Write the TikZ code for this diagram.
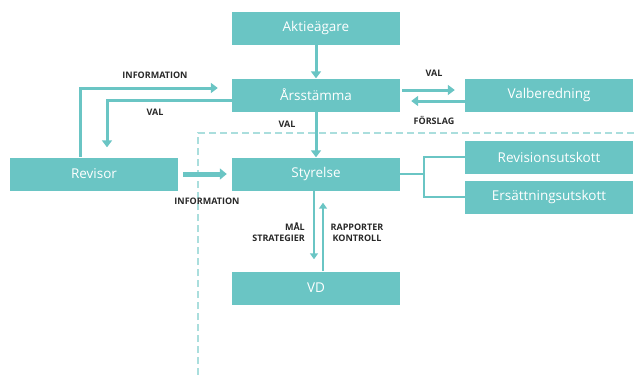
\documentclass[tikz,border=0pt]{standalone}
\usepackage{fontspec}
\setmainfont{Open Sans}
\usetikzlibrary{arrows.meta}
\definecolor{boxteal}{RGB}{106,197,196}
\definecolor{dashteal}{RGB}{170,222,221}
\definecolor{lbltext}{RGB}{40,40,40}

\begin{document}
\begin{tikzpicture}[x=1pt,y=-1pt,
    box/.style={fill=boxteal,text=white,minimum width=168pt,minimum height=33pt,inner sep=0pt,font=\fontsize{13.5}{15}\selectfont},
    flow/.style={draw=boxteal,line width=3pt,-{Triangle[width=10pt,length=7pt]}},
    link/.style={draw=boxteal,line width=2pt},
    lbl/.style={text=lbltext,inner sep=0pt,font=\fontsize{9}{10.5}\selectfont\bfseries}]
      \useasboundingbox (0,0) rectangle (638,375);
      % dashed border
      \draw[dashteal,line width=1.5pt,dash pattern=on 7pt off 4pt] (198,375) -- (198,133) -- (638,133);
      % boxes
      \node[box] (aktie) at (316,28) {Aktieägare};
      \node[box] (arss) at (316,95) {Årsstämma};
      \node[box] (valb) at (549,95) {Valberedning};
      \node[box] (rev) at (94,174) {Revisor};
      \node[box] (styr) at (316,174) {Styrelse};
      \node[box] (revu) at (549,157) {Revisionsutskott};
      \node[box] (ersu) at (549,197) {Ersättningsutskott};
      \node[box] (vd) at (316,288) {VD};
      % arrows
      \draw[flow] (aktie) -- (arss);
      \draw[flow] (arss) -- (styr);
      \draw[flow] ([xshift=-14pt]rev.north) |- ([xshift=-14pt,yshift=7pt]arss.west);
      \draw[flow] ([yshift=-5pt]arss.west) -| ([xshift=13pt,yshift=10pt]rev.north);
      \draw[flow,line width=5pt,-{Triangle[width=11pt,length=7pt]}] ([xshift=5pt]rev.east) -- ([xshift=-5pt]styr.west);
      \draw[flow] ([xshift=2pt,yshift=5pt]arss.east) -- ([xshift=-10pt,yshift=5pt]valb.west);
      \draw[flow] ([yshift=-6pt]valb.west) -- ([xshift=11pt,yshift=-6pt]arss.east);
      \draw[flow,line width=2.5pt,-{Triangle[width=8pt,length=6pt]}] ([xshift=-2pt]styr.south) -- ([xshift=-2pt,yshift=12pt]vd.north);
      \draw[flow,line width=2.5pt,-{Triangle[width=8pt,length=6pt]}] ([xshift=7pt]vd.north) -- ([xshift=7pt,yshift=-12pt]styr.south);
      % committees
      \coordinate (br) at (424,174);
      \draw[link] (styr.east) -- (br);
      \draw[link] (revu.west) -| (br) |- (ersu.west);
      % labels
      \node[lbl] (l1) at (155,75) {INFORMATION};
      \node[lbl] (l2) at (155,112) {VAL};
      \node[lbl] (l3) at (287,124) {VAL};
      \node[lbl] (l4) at (434,73) {VAL};
      \node[lbl] (l5) at (434,120) {FÖRSLAG};
      \node[lbl] (l6) at (207,201) {INFORMATION};
      \node[lbl,align=right,anchor=east] (l7) at (305,232) {MÅL\\STRATEGIER};
      \node[lbl,align=center] (l8) at (357,233) {RAPPORTER\\KONTROLL};
    \end{tikzpicture}
\end{document}
